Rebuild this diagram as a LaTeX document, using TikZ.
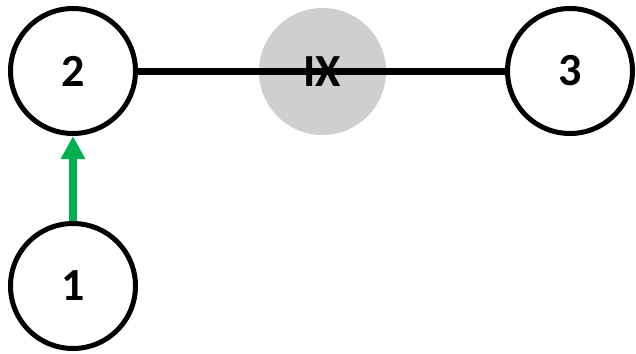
\documentclass[tikz,border=0pt]{standalone}
\usepackage{fontspec}
\setmainfont{Carlito}
\usetikzlibrary{arrows.meta}
\definecolor{ixgray}{HTML}{D0CECE}
\definecolor{arrgreen}{HTML}{00B050}
\begin{document}
\begin{tikzpicture}[x=1pt,y=-1pt,
  statenode/.style={circle,draw=black,line width=5pt,minimum size=125pt,inner sep=0pt,font=\fontsize{46}{46}\selectfont\bfseries},
  ixnode/.style={circle,fill=ixgray,minimum size=127pt,inner sep=0pt,font=\fontsize{46}{46}\selectfont\bfseries},
  link/.style={line width=7pt,draw=black},
  greenarrow/.style={line width=8pt,draw=arrgreen,-{Triangle[width=23pt,length=23pt]}}]
\useasboundingbox (0,0) rectangle (636,353);
\node[ixnode] (ix) at (322.5,71.5) {};
\node[statenode] (n2) at (73,71) {2};
\node[statenode] (n3) at (570,71) {3};
\node[statenode] (n1) at (73,286) {1};
\draw[link] (n2) -- (n3);
\node[font=\fontsize{46}{46}\selectfont\bfseries,inner sep=0pt] (ixlabel) at (ix.center) {IX};
\draw[greenarrow] (n1.north) -- (n2.south);
\end{tikzpicture}
\end{document}
